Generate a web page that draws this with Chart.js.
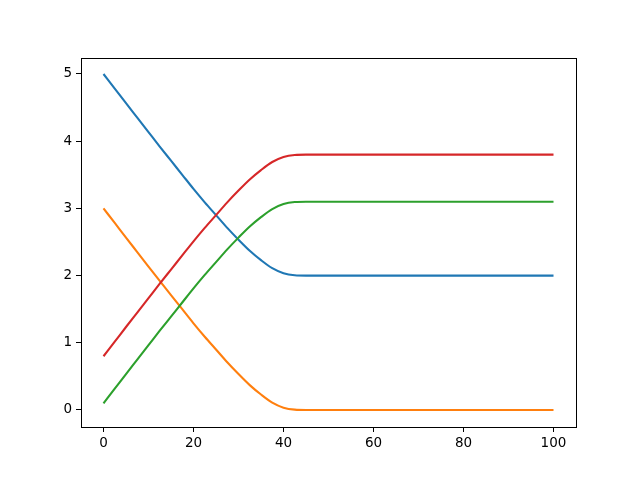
<!DOCTYPE html>
<html>
<head>
<meta charset="utf-8">
<script src="https://cdn.jsdelivr.net/npm/chart.js@4/dist/chart.umd.min.js"></script>
<style>
	html, body { margin: 0; padding: 0; background: #fff; }
	canvas { display: block; }
</style>
</head>
<body>
<canvas id="chart" width="640" height="480"></canvas>
<script>
	// x positions, shared by every line
	const xs = [0, 2.5, 5, 7.5, 10, 12.5, 15, 17.5, 20, 22.5, 25, 27.5, 30, 32.5, 35, 37.5, 40, 42.5, 45, 47.5, 50, 60, 70, 80, 90, 100];

	const blueVals = [5, 4.783, 4.565, 4.35, 4.135, 3.92, 3.71, 3.5, 3.29, 3.09, 2.9, 2.71, 2.535, 2.37, 2.23, 2.11, 2.035, 2.005, 2, 2, 2, 2, 2, 2, 2, 2];
	const orangeVals = [3, 2.783, 2.565, 2.35, 2.135, 1.92, 1.71, 1.5, 1.29, 1.09, 0.9, 0.71, 0.535, 0.37, 0.23, 0.11, 0.035, 0.005, 0, 0, 0, 0, 0, 0, 0, 0];
	const greenVals = [0.1, 0.317, 0.535, 0.75, 0.965, 1.18, 1.39, 1.6, 1.81, 2.01, 2.2, 2.39, 2.565, 2.73, 2.87, 2.99, 3.065, 3.095, 3.1, 3.1, 3.1, 3.1, 3.1, 3.1, 3.1, 3.1];
	const redVals = [0.8, 1.017, 1.235, 1.45, 1.665, 1.88, 2.09, 2.3, 2.51, 2.71, 2.9, 3.09, 3.265, 3.43, 3.57, 3.69, 3.765, 3.795, 3.8, 3.8, 3.8, 3.8, 3.8, 3.8, 3.8, 3.8];

	const xTicks = [0, 20, 40, 60, 80, 100];
	const yTicks = [0, 1, 2, 3, 4, 5];

	const series = [
		{ vals: blueVals, color: '#1f77b4' },
		{ vals: orangeVals, color: '#ff7f0e' },
		{ vals: greenVals, color: '#2ca02c' },
		{ vals: redVals, color: '#d62728' }
	];

	// box round the plot area, like the matplotlib spines
	const frame = {
		id: 'frame',
		afterDraw: function (chart) {
			const a = chart.chartArea;
			const c = chart.ctx;
			c.save();
			c.strokeStyle = '#000';
			c.lineWidth = 1;
			c.strokeRect(Math.round(a.left) + 0.5, Math.round(a.top) + 0.5,
				Math.round(a.right - a.left), Math.round(a.bottom - a.top));
			c.restore();
		}
	};

	const font = { family: 'DejaVu Sans', size: 13.5 };

	new Chart(document.getElementById('chart'), {
		type: 'line',
		data: {
			datasets: series.map((s, i) => ({
				data: xs.map((x, j) => ({ x: x, y: s.vals[j] })),
				borderColor: s.color,
				borderWidth: 2.1,
				pointRadius: 0,
				fill: false,
				cubicInterpolationMode: 'monotone',
				order: series.length - i
			}))
		},
		options: {
			responsive: false,
			animation: false,
			devicePixelRatio: 1,
			layout: { padding: { left: 0, top: 58, right: 64, bottom: 0 } },
			plugins: { legend: { display: false }, tooltip: { enabled: false } },
			scales: {
				x: {
					type: 'linear',
					min: -5,
					max: 105,
					afterFit: (s) => { s.height = 53; },
					afterBuildTicks: (s) => { s.ticks = xTicks.map(v => ({ value: v })); },
					grid: { drawOnChartArea: false, drawTicks: true, tickLength: 5, tickColor: '#000' },
					border: { display: false },
					ticks: { color: '#000', font: font, padding: 3, maxRotation: 0 }
				},
				y: {
					type: 'linear',
					min: -0.253,
					max: 5.238,
					afterFit: (s) => { s.width = 81; },
					afterBuildTicks: (s) => { s.ticks = yTicks.map(v => ({ value: v })); },
					grid: { drawOnChartArea: false, drawTicks: true, tickLength: 5, tickColor: '#000' },
					border: { display: false },
					ticks: { color: '#000', font: font, padding: 4 }
				}
			}
		},
		plugins: [frame]
	});
</script>
</body>
</html>
